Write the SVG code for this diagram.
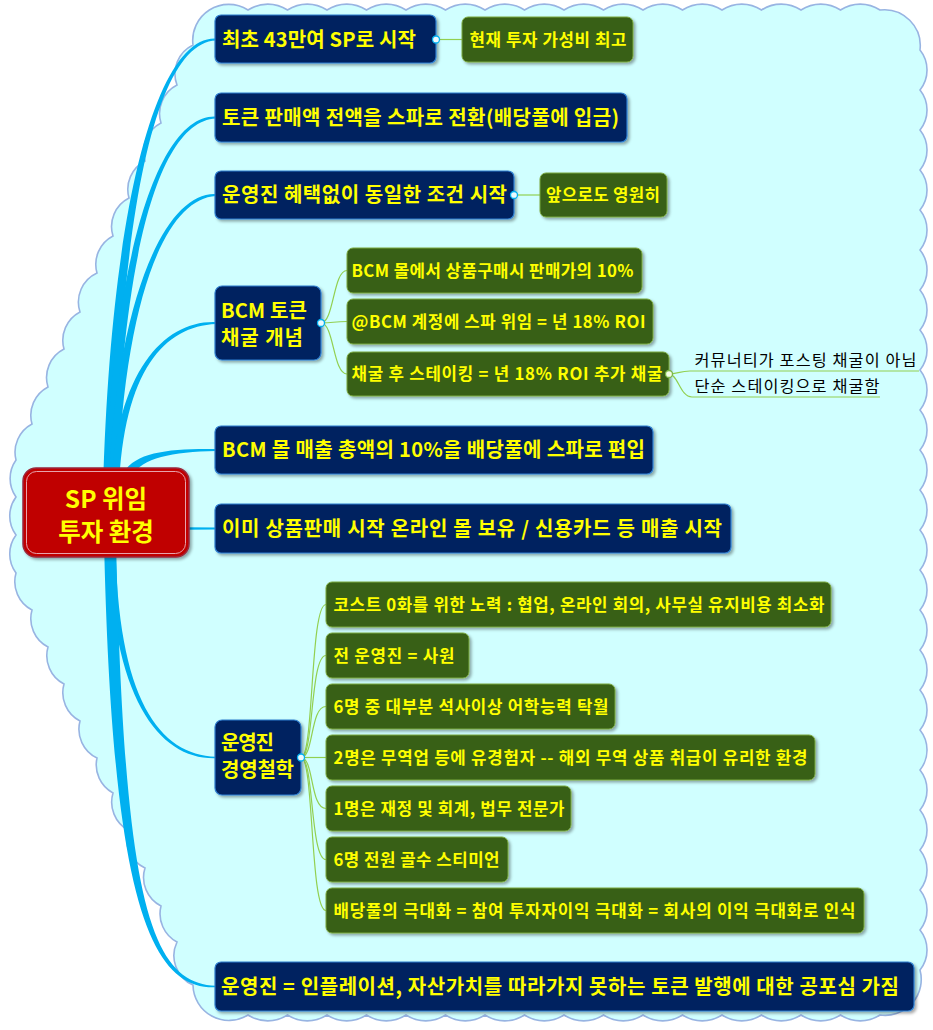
<svg xmlns="http://www.w3.org/2000/svg" width="933" height="1030" viewBox="0 0 933 1030">
<defs>
<filter id="sh" x="-5%" y="-10%" width="115%" height="135%"><feDropShadow dx="2" dy="2" stdDeviation="1.4" flood-color="#000" flood-opacity="0.35"/></filter>
</defs>
<style>
.blue rect{fill:#002060;stroke:#2f7fd0;stroke-width:1.2;filter:url(#sh)}
.green rect{fill:#376014;stroke:#7aa83e;stroke-width:1;filter:url(#sh)}
text{font-family:"Noto Sans CJK KR","Noto Sans",sans-serif}
.bt{font-weight:700;font-size:20px;fill:#ffff00}
.gt{font-weight:700;font-size:16.8px;fill:#ffff00}
.pt{font-weight:400;font-size:16.3px;fill:#000}
.rt{font-weight:700;font-size:24.5px;fill:#ffff00}
.thin{fill:none;stroke:#92d050;stroke-width:1.2}
.tk{fill:#00b0f0}
.dotb{fill:#eaf9ff;stroke:#00b0f0;stroke-width:1.3}
.dotg{fill:#f2ffe6;stroke:#7ab648;stroke-width:1.3}
.cloud{fill:#d0ffff;stroke:#98b4e2;stroke-width:1.6}
</style>

<path id="cloud" class="cloud" d="M248,10 A36,36 0 0 1 287.5,10 A36,36 0 0 1 327,10 A36,36 0 0 1 366.5,10 A36,36 0 0 1 406,10 A36,36 0 0 1 445.5,10 A36,36 0 0 1 485,10 A36,36 0 0 1 524.5,10 A36,36 0 0 1 564,10 A36,36 0 0 1 603.5,10 A36,36 0 0 1 643,10 A36,36 0 0 1 682.5,10 A36,36 0 0 1 722,10 A36,36 0 0 1 761.5,10 A36,36 0 0 1 801,10 A36,36 0 0 1 840.5,10 A36,36 0 0 1 880,10 A36,36 0 0 1 920,50 A32,32 0 0 1 920,90 A32,32 0 0 1 920,130 A32,32 0 0 1 920,170 A32,32 0 0 1 920,210 A32,32 0 0 1 920,250 A32,32 0 0 1 920,290 A32,32 0 0 1 920,330 A32,32 0 0 1 920,370 A32,32 0 0 1 920,410 A32,32 0 0 1 920,450 A32,32 0 0 1 920,490 A32,32 0 0 1 920,530 A32,32 0 0 1 920,570 A32,32 0 0 1 920,610 A32,32 0 0 1 920,650 A32,32 0 0 1 920,690 A32,32 0 0 1 920,730 A32,32 0 0 1 920,770 A32,32 0 0 1 920,810 A32,32 0 0 1 920,850 A32,32 0 0 1 920,890 A32,32 0 0 1 920,930 A32,32 0 0 1 920,970 A36,36 0 0 1 880,1015 A36,36 0 0 1 840.5,1015 A36,36 0 0 1 801,1015 A36,36 0 0 1 761.5,1015 A36,36 0 0 1 722,1015 A36,36 0 0 1 682.5,1015 A36,36 0 0 1 643,1015 A36,36 0 0 1 603.5,1015 A36,36 0 0 1 564,1015 A36,36 0 0 1 524.5,1015 A36,36 0 0 1 485,1015 A36,36 0 0 1 445.5,1015 A36,36 0 0 1 406,1015 A36,36 0 0 1 366.5,1015 A36,36 0 0 1 327,1015 A36,36 0 0 1 287.5,1015 A36,36 0 0 1 248,1015 A36,36 0 0 1 193,985 A32,32 0 0 1 177,942 A32,32 0 0 1 161,906 A32,32 0 0 1 145,868 A32,32 0 0 1 128,830 A32,32 0 0 1 113,793 A32,32 0 0 1 97,758 A32,32 0 0 1 80,721 A32,32 0 0 1 64,684 A32,32 0 0 1 48,647 A32,32 0 0 1 32,610 A32,32 0 0 1 16,573 A32,32 0 0 1 16,535 A32,32 0 0 1 16,497 A32,32 0 0 1 16,460 A32,32 0 0 1 32,424 A32,32 0 0 1 48,387 A32,32 0 0 1 64,349 A32,32 0 0 1 80,312 A32,32 0 0 1 97,273 A32,32 0 0 1 113,236 A32,32 0 0 1 129,198 A32,32 0 0 1 145,161 A32,32 0 0 1 161,123 A32,32 0 0 1 177,85 A32,32 0 0 1 193,45 A36,36 0 0 1 248,10 Z"/>

<g id="connectors">
<path class="tk" d="M103,490 C111,200 158,35.5 216,38.5 L216,40.5 C158,42.5 121,200 114,490 Z"/>
<path class="tk" d="M105.5,490 C113.5,250 160,114 216,116.5 L216,118.5 C160,121 122.5,250 115.5,490 Z"/>
<path class="tk" d="M108.5,490 C116,300 165,191.5 216,194 L216,196 C165,198.5 124,300 117.5,490 Z"/>
<path class="tk" d="M111,490 C116.5,370 165,320 216,322 L216,324 C165,326 123.5,370 119,490 Z"/>
<path class="tk" d="M124,472 C136,452 170,448.3 216,449 L216,451 C172,451.7 142,458 132,476 Z"/>
<path class="tk" d="M185,527.2 L216,527.5 L216,529.5 L185,529.8 Z"/>
<path class="tk" d="M108.5,540 C111,700 160,760 216,758.25 L216,756.75 C160,755 117,700 115.5,540 Z"/>
<path class="tk" d="M104,540 C112,900 150,990 216,987.25 L216,985.75 C150,983.5 124,900 116,540 Z"/>
<path class="thin" d="M436,39.5 L462,39.5"/>
<path class="thin" d="M514,195 L540,195"/>
<path class="thin" d="M321,323 C334,323 333,270.5 347,270.5"/>
<path class="thin" d="M321,323 C334,323 333,321.5 347,321.5"/>
<path class="thin" d="M321,323 C334,323 333,374 347,374"/>
<path class="thin" d="M669,374 C677,374 680,371 690,371 L919,371"/>
<path class="thin" d="M669,374 C678,374 680,397 692,397 L880,397"/>
<path class="thin" d="M301,757.5 C314,757.5 310,604.5 326,604.5"/>
<path class="thin" d="M301,757.5 C314,757.5 310,655.5 326,655.5"/>
<path class="thin" d="M301,757.5 C314,757.5 310,706.5 326,706.5"/>
<path class="thin" d="M301,757.5 L326,757.5"/>
<path class="thin" d="M301,757.5 C314,757.5 310,808.5 326,808.5"/>
<path class="thin" d="M301,757.5 C314,757.5 310,859.5 326,859.5"/>
<path class="thin" d="M301,757.5 C314,757.5 310,910.5 326,910.5"/>
</g>

<g id="root">
<rect x="23" y="468" width="166" height="89" rx="13" fill="#c00000" stroke="#9a2a3c" stroke-width="1.5" filter="url(#sh)"/>
<rect x="26.5" y="471.5" width="159" height="82" rx="10" fill="none" stroke="#e7a3ac" stroke-width="1"/>
<text class="rt" x="106" y="508" text-anchor="middle">SP 위임</text>
<text class="rt" x="106" y="541" text-anchor="middle">투자 환경</text>
</g>

<g id="nA" class="blue"><rect x="215" y="15" width="221" height="48" rx="6"/><text class="bt" x="222" y="46.5" textLength="194" lengthAdjust="spacing">최초 43만여 SP로 시작</text></g>
<g id="nA1" class="green"><rect x="462" y="17" width="171" height="45" rx="6"/><text class="gt" x="469.5" y="45.5" textLength="157" lengthAdjust="spacing">현재 투자 가성비 최고</text></g>
<g id="nB" class="blue"><rect x="215" y="93" width="412" height="49" rx="6"/><text class="bt" x="222" y="124.5" textLength="397" lengthAdjust="spacing">토큰 판매액 전액을 스파로 전환(배당풀에 입금)</text></g>
<g id="nC" class="blue"><rect x="215" y="171" width="299" height="48" rx="6"/><text class="bt" x="222" y="202" textLength="285" lengthAdjust="spacing">운영진 혜택없이 동일한 조건 시작</text></g>
<g id="nC1" class="green"><rect x="540" y="173" width="127" height="44" rx="6"/><text class="gt" x="546" y="201" textLength="114" lengthAdjust="spacing">앞으로도 영원히</text></g>
<g id="nD" class="blue"><rect x="215" y="286" width="106" height="74" rx="7"/><text class="bt" x="221" y="318" textLength="86" lengthAdjust="spacing">BCM 토큰</text><text class="bt" x="221" y="345" textLength="82" lengthAdjust="spacing">채굴 개념</text></g>
<g id="nD1" class="green"><rect x="347" y="248" width="295" height="45" rx="6"/><text class="gt" x="351.5" y="276.5" textLength="282" lengthAdjust="spacing">BCM 몰에서 상품구매시 판매가의 10%</text></g>
<g id="nD2" class="green"><rect x="347" y="299" width="306" height="45" rx="6"/><text class="gt" x="351.5" y="327.5" textLength="294" lengthAdjust="spacing">@BCM 계정에 스파 위임 = 년 18% ROI</text></g>
<g id="nD3" class="green"><rect x="347" y="352" width="322" height="44" rx="6"/><text class="gt" x="351.5" y="380" textLength="311" lengthAdjust="spacing">채굴 후 스테이킹 = 년 18% ROI 추가 채굴</text></g>
<g id="nD3a"><text class="pt" x="694.5" y="366" textLength="222" lengthAdjust="spacing">커뮤너티가 포스팅 채굴이 아님</text></g>
<g id="nD3b"><text class="pt" x="694.5" y="392" textLength="185" lengthAdjust="spacing">단순 스테이킹으로 채굴함</text></g>
<g id="nE" class="blue"><rect x="215" y="426" width="438" height="48" rx="6"/><text class="bt" x="222" y="457" textLength="423" lengthAdjust="spacing">BCM 몰 매출 총액의 10%을 배당풀에 스파로 편입</text></g>
<g id="nF" class="blue"><rect x="215" y="504" width="516" height="49" rx="6"/><text class="bt" x="222" y="535.5" textLength="500" lengthAdjust="spacing">이미 상품판매 시작 온라인 몰 보유 / 신용카드 등 매출 시작</text></g>
<g id="nG" class="blue"><rect x="215" y="720" width="86" height="75" rx="7"/><text class="bt" x="221" y="750" textLength="53" lengthAdjust="spacing">운영진</text><text class="bt" x="221" y="777" textLength="73" lengthAdjust="spacing">경영철학</text></g>
<g id="nG1" class="green"><rect x="326" y="582" width="505" height="45" rx="6"/><text class="gt" x="333.5" y="610.5" textLength="491" lengthAdjust="spacing">코스트 0화를 위한 노력 : 협업, 온라인 회의, 사무실 유지비용 최소화</text></g>
<g id="nG2" class="green"><rect x="326" y="633" width="143" height="45" rx="6"/><text class="gt" x="333.5" y="661.5" textLength="121" lengthAdjust="spacing">전 운영진 = 사원</text></g>
<g id="nG3" class="green"><rect x="326" y="684" width="289" height="45" rx="6"/><text class="gt" x="333.5" y="712.5" textLength="275" lengthAdjust="spacing">6명 중 대부분 석사이상 어학능력 탁월</text></g>
<g id="nG4" class="green"><rect x="326" y="735" width="489" height="45" rx="6"/><text class="gt" x="333.5" y="763.5" textLength="474" lengthAdjust="spacing">2명은 무역업 등에 유경험자 -- 해외 무역 상품 취급이 유리한 환경</text></g>
<g id="nG5" class="green"><rect x="326" y="786" width="245" height="45" rx="6"/><text class="gt" x="333.5" y="814.5" textLength="231" lengthAdjust="spacing">1명은 재정 및 회계, 법무 전문가</text></g>
<g id="nG6" class="green"><rect x="326" y="837" width="182" height="45" rx="6"/><text class="gt" x="333.5" y="865.5" textLength="166" lengthAdjust="spacing">6명 전원 골수 스티미언</text></g>
<g id="nG7" class="green"><rect x="326" y="888" width="538" height="45" rx="6"/><text class="gt" x="333.5" y="916.5" textLength="522" lengthAdjust="spacing">배당풀의 극대화 = 참여 투자자이익 극대화 = 회사의 이익 극대화로 인식</text></g>
<g id="nH" class="blue"><rect x="215" y="962" width="699" height="49" rx="6"/><text class="bt" x="221" y="993.5" textLength="678" lengthAdjust="spacing">운영진 = 인플레이션, 자산가치를 따라가지 못하는 토큰 발행에 대한 공포심 가짐</text></g>

<g id="dots">
<circle class="dotb" cx="436" cy="39.5" r="3.5"/>
<circle class="dotb" cx="514" cy="195" r="3.5"/>
<circle class="dotb" cx="321" cy="323" r="3.5"/>
<circle class="dotg" cx="669" cy="374" r="3.5"/>
<circle class="dotb" cx="301" cy="757.5" r="3.5"/>
</g>
</svg>
